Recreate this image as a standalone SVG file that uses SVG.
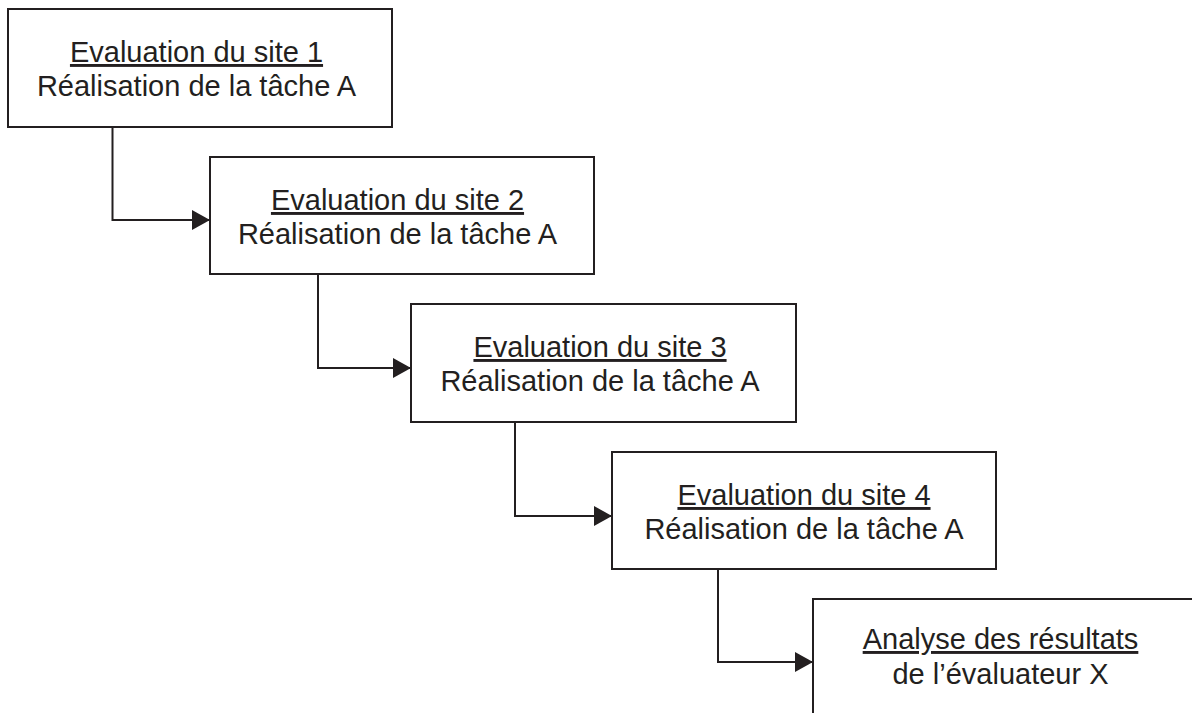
<svg xmlns="http://www.w3.org/2000/svg" width="1192" height="713" viewBox="0 0 1192 713">
<defs>
<style>
.box{fill:#fff;stroke:#231f20;stroke-width:2}
.t{font-family:"Liberation Sans",Arial,sans-serif;font-size:29px;fill:#231f20;text-anchor:middle}
.u{text-decoration:underline}
.c{fill:none;stroke:#231f20;stroke-width:2}
</style>
<marker id="ah" viewBox="0 0 18 20" refX="18" refY="10" markerWidth="18" markerHeight="20" markerUnits="userSpaceOnUse" orient="auto">
<path d="M0,0 L18,10 L0,20 Z" fill="#231f20"/>
</marker>
</defs>
<rect width="1192" height="713" fill="#fff"/>
<g id="connectors">
<path class="c" d="M112.5 127 V220 H210" marker-end="url(#ah)"/>
<path class="c" d="M318 274 V368 H411" marker-end="url(#ah)"/>
<path class="c" d="M515 422 V516 H612" marker-end="url(#ah)"/>
<path class="c" d="M718 569 V662 H813" marker-end="url(#ah)"/>
</g>
<g id="site1">
<rect class="box" x="8" y="9" width="384" height="118"/>
<text class="t u" x="196.5" y="62">Evaluation du site 1</text>
<text class="t" x="196.5" y="96">Réalisation de la tâche A</text>
</g>
<g id="site2">
<rect class="box" x="210" y="157" width="384" height="117"/>
<text class="t u" x="397.5" y="210">Evaluation du site 2</text>
<text class="t" x="397.5" y="244">Réalisation de la tâche A</text>
</g>
<g id="site3">
<rect class="box" x="411" y="304" width="385" height="118"/>
<text class="t u" x="600" y="357">Evaluation du site 3</text>
<text class="t" x="600" y="391">Réalisation de la tâche A</text>
</g>
<g id="site4">
<rect class="box" x="612" y="452" width="384" height="117"/>
<text class="t u" x="804" y="505">Evaluation du site 4</text>
<text class="t" x="804" y="539">Réalisation de la tâche A</text>
</g>
<g id="analyse">
<rect class="box" x="813" y="599" width="400" height="150"/>
<text class="t u" x="1000.5" y="649">Analyse des résultats</text>
<text class="t" x="1000.5" y="684">de l’évaluateur X</text>
</g>
</svg>
